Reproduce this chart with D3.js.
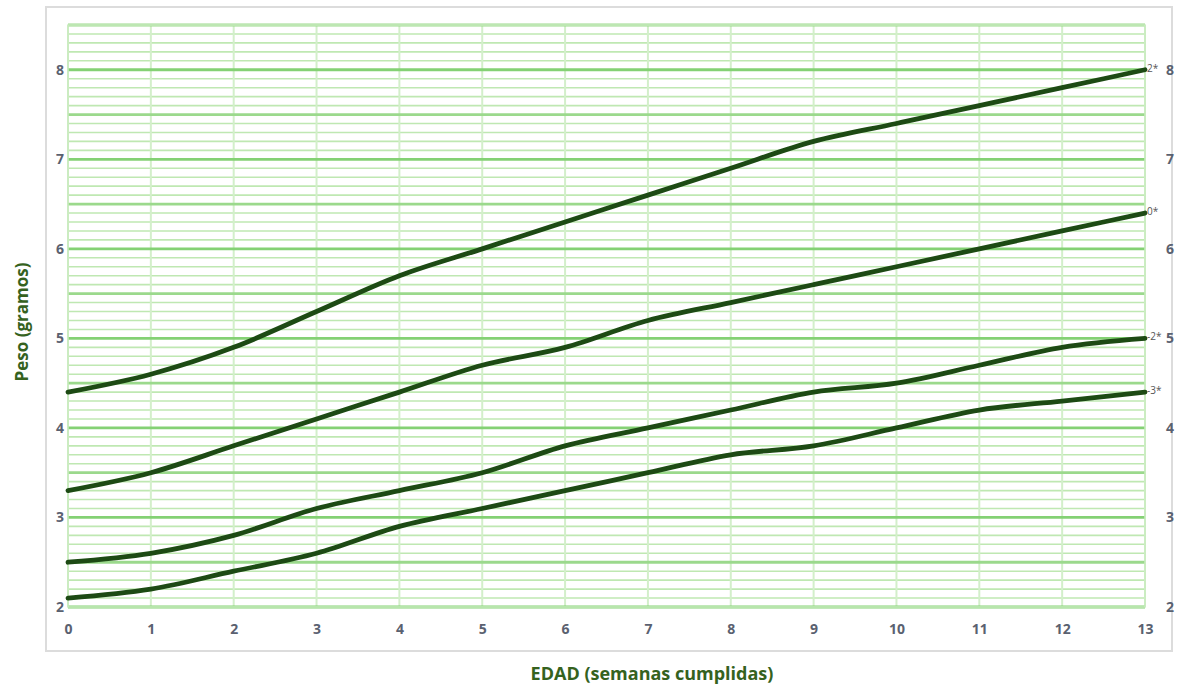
<!DOCTYPE html>
<html>
<head>
<meta charset="utf-8">
<script src="https://cdn.jsdelivr.net/npm/d3@7/dist/d3.min.js"></script>
<style>
  html, body { margin: 0; padding: 0; background: #fff; }
  svg { display: block; font-family: "Open Sans", "Noto Sans", sans-serif; }
</style>
</head>
<body>
<svg id="chart" width="1177" height="690"></svg>
<script>
// ---- data ----
const weeks = [0, 1, 2, 3, 4, 5, 6, 7, 8, 9, 10, 11, 12, 13];
const seriesNames = ["2*", "0*", "-2*", "-3*"];
const sdPlus2  = [4.4, 4.6, 4.9, 5.3, 5.7, 6.0, 6.3, 6.6, 6.9, 7.2, 7.4, 7.6, 7.8, 8.0];
const sd0      = [3.3, 3.5, 3.8, 4.1, 4.4, 4.7, 4.9, 5.2, 5.4, 5.6, 5.8, 6.0, 6.2, 6.4];
const sdMinus2 = [2.5, 2.6, 2.8, 3.1, 3.3, 3.5, 3.8, 4.0, 4.2, 4.4, 4.5, 4.7, 4.9, 5.0];
const sdMinus3 = [2.1, 2.2, 2.4, 2.6, 2.9, 3.1, 3.3, 3.5, 3.7, 3.8, 4.0, 4.2, 4.3, 4.4];
const yTicks = [2, 3, 4, 5, 6, 7, 8];
const xTitle = "EDAD (semanas cumplidas)";
const yTitle = "Peso (gramos)";

const seriesValues = [sdPlus2, sd0, sdMinus2, sdMinus3];

// ---- layout ----
(function () {
const svg = d3.select("#chart");
const pL = 68, pR = 1145, pT = 25, pB = 607;

const x = d3.scaleLinear().domain([0, 13]).range([pL, pR]);
const y = d3.scaleLinear().domain([2, 8.5]).range([pB, pT]);

// frame
svg.append("rect")
  .attr("x", 46).attr("y", 7).attr("width", 1126).attr("height", 644)
  .attr("fill", "#fff").attr("stroke", "#dcdcdc").attr("stroke-width", 2);

// minor horizontal grid every 0.1
const minor = d3.range(20, 86).map(d => d / 10);
svg.append("g").selectAll("line")
  .data(minor.filter(v => Math.round(v * 10) % 5 !== 0))
  .join("line")
  .attr("x1", pL).attr("x2", pR)
  .attr("y1", d => y(d)).attr("y2", d => y(d))
  .attr("stroke", "#bfe8b2").attr("stroke-width", 1.6);

// vertical grid
svg.append("g").selectAll("line")
  .data(weeks)
  .join("line")
  .attr("x1", d => x(d)).attr("x2", d => x(d))
  .attr("y1", pT).attr("y2", pB)
  .attr("stroke", "#d3efca").attr("stroke-width", 2);

// major horizontal grid every 0.5
const major = minor.filter(v => Math.round(v * 10) % 5 === 0);
svg.append("g").selectAll("line")
  .data(major)
  .join("line")
  .attr("x1", pL).attr("x2", pR)
  .attr("y1", d => y(d)).attr("y2", d => y(d))
  .attr("stroke", d => (Math.abs(d - Math.round(d)) < 1e-6) ? "#84d174" : "#9bd98c")
  .attr("stroke-width", 2.8);

// outer grid edges
svg.append("rect")
  .attr("x", pL).attr("y", pT).attr("width", pR - pL).attr("height", pB - pT)
  .attr("fill", "none").attr("stroke", "#c9ecbf").attr("stroke-width", 1.5);

// curves
const line = d3.line()
  .x((d, i) => x(weeks[i]))
  .y(d => y(d))
  .curve(d3.curveMonotoneX);

svg.append("g").selectAll("path")
  .data(seriesValues)
  .join("path")
  .attr("d", d => line(d))
  .attr("fill", "none")
  .attr("stroke", "#1d4a14")
  .attr("stroke-width", 4.8)
  .attr("stroke-linejoin", "round")
  .attr("stroke-linecap", "round");

// series end labels
svg.append("g").selectAll("text")
  .data(seriesValues)
  .join("text")
  .attr("x", pR + 2)
  .attr("y", d => y(d[d.length - 1]) + 2)
  .attr("font-size", 10)
  .attr("fill", "#555")
  .text((d, i) => seriesNames[i]);

// x axis labels
const xAxis = d3.axisBottom(x).tickValues(weeks).tickSize(0).tickPadding(0).tickFormat(d3.format("d"));
const gx = svg.append("g").attr("transform", `translate(0, ${pB + 17})`).call(xAxis);
gx.select(".domain").remove();
gx.selectAll("text")
  .attr("font-size", 14).attr("font-weight", "bold").attr("fill", "#5a6170")
  .attr("font-family", "Open Sans, sans-serif");

// y axis labels (left and right)
const yAxisL = d3.axisLeft(y).tickValues(yTicks).tickSize(0).tickPadding(0).tickFormat(d3.format("d"));
const gyl = svg.append("g").attr("transform", `translate(${pL - 4}, 0)`).call(yAxisL);
gyl.select(".domain").remove();
gyl.selectAll("text")
  .attr("font-size", 14).attr("font-weight", "bold").attr("fill", "#5a6170")
  .attr("font-family", "Open Sans, sans-serif");

const yAxisR = d3.axisRight(y).tickValues(yTicks).tickSize(0).tickPadding(0).tickFormat(d3.format("d"));
const gyr = svg.append("g").attr("transform", `translate(1166, 0)`).call(yAxisR);
gyr.select(".domain").remove();
gyr.selectAll("text")
  .attr("font-size", 14).attr("font-weight", "bold").attr("fill", "#5a6170")
  .attr("font-family", "Open Sans, sans-serif");

// titles
svg.append("text")
  .attr("x", 652).attr("y", 680)
  .attr("text-anchor", "middle")
  .attr("font-size", 18).attr("font-weight", "bold").attr("fill", "#35621e")
  .text(xTitle);

svg.append("text")
  .attr("transform", "translate(28, 322) rotate(-90)")
  .attr("text-anchor", "middle")
  .attr("font-size", 17).attr("font-weight", "bold").attr("fill", "#35621e")
  .text(yTitle);
})();
</script>
</body>
</html>
